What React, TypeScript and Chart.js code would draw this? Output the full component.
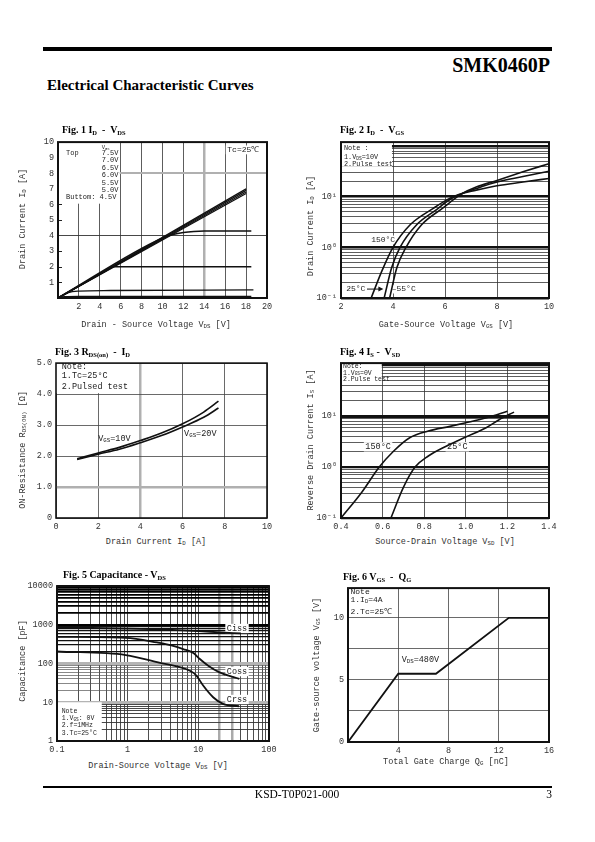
import React, { useEffect, useRef } from "react";
import { Chart, registerables } from "chart.js";

Chart.register(...registerables);

const MONO = '"Liberation Mono", "DejaVu Sans Mono", monospace';
const SERIF = '"Liberation Serif", "Times New Roman", serif';

// ---------------- Fig. 1  ID - VDS ----------------
const f1XTicks = [0, 2, 4, 6, 8, 10, 12, 14, 16, 18, 20];
const f1YTicks = [0, 1, 2, 3, 4, 5, 6, 7, 8, 9, 10];
const f1LinX = [0, 18];
const f1Vgs75 = [0, 7.0];
const f1Vgs70 = [0, 6.9];
const f1Vgs65 = [0, 6.8];
const f1Vgs60 = [0, 6.7];
const f1Vgs55X = [0, 10, 11, 12, 13, 14, 18.5];
const f1Vgs55 = [0, 3.85, 4.07, 4.2, 4.27, 4.3, 4.3];
const f1Vgs50X = [0, 5.2, 18.5];
const f1Vgs50 = [0, 2.0, 2.0];
const f1Vgs45X = [0, 1, 2, 5, 18.7];
const f1Vgs45 = [0, 0.35, 0.44, 0.48, 0.52];
const f1Vgs40X = [0, 0.6, 2, 18.5];
const f1Vgs40 = [0, 0.08, 0.1, 0.1];

// ---------------- Fig. 2  ID - VGS ----------------
const f2XTicks = [2, 4, 6, 8, 10];
const f2T150X = [3.16, 3.57, 4.0, 4.66, 5.55, 6.0, 6.5, 7.2, 8.0, 9.0, 10.0];
const f2T150Y = [0.1, 0.34, 1.0, 2.8, 5.9, 8.3, 11.0, 13.5, 16.5, 19.5, 23.0];
const f2T25X = [3.66, 3.95, 4.27, 4.91, 5.74, 6.0, 6.55, 7.2, 8.0, 9.0, 10.0];
const f2T25Y = [0.1, 0.4, 1.0, 2.8, 5.9, 7.6, 11.0, 14.5, 19.5, 25.0, 32.0];
const f2Tm55X = [3.87, 4.15, 4.5, 5.1, 5.9, 6.6, 7.2, 8.0, 9.0, 10.0];
const f2Tm55Y = [0.1, 0.4, 1.0, 2.8, 5.9, 11.0, 15.5, 21.0, 31.0, 45.0];

// ---------------- Fig. 3  RDS(on) - ID ----------------
const f3XTicks = [0, 2, 4, 6, 8, 10];
const f3YTicks = [0, 1, 2, 3, 4, 5];
const f3X = [1, 2, 3, 4, 5, 6, 7, 7.7];
const f3Vgs10 = [1.91, 2.1, 2.28, 2.5, 2.74, 3.04, 3.42, 3.77];
const f3Vgs20 = [1.89, 2.06, 2.22, 2.43, 2.66, 2.94, 3.25, 3.55];

// ---------------- Fig. 4  IS - VSD ----------------
const f4XTicks = [0.4, 0.6, 0.8, 1.0, 1.2, 1.4];
const f4T150X = [0.4, 0.5, 0.584, 0.65, 0.732, 0.82, 0.924, 1.0, 1.1, 1.2];
const f4T150Y = [0.1, 0.32, 1.0, 2.0, 3.8, 5.1, 6.3, 7.4, 9.3, 12.5];
const f4T25X = [0.64, 0.7, 0.756, 0.82, 0.908, 1.0, 1.1, 1.16, 1.232];
const f4T25Y = [0.1, 0.4, 1.0, 1.65, 2.6, 3.9, 6.0, 8.5, 12.0];

// ---------------- Fig. 5  Capacitance - VDS ----------------
const f5CissX = [0.1, 1, 3, 10, 20, 40];
const f5CissY = [860, 800, 760, 690, 640, 600];
const f5CossX = [0.1, 0.94, 2.6, 4.4, 6.1, 8.5, 10.5, 13.8, 20, 38];
const f5CossY = [490, 460, 350, 288, 237, 186, 131, 88, 59, 40];
const f5CrssX = [0.1, 0.94, 2.7, 7.6, 9.4, 11.7, 16.2, 22.3, 37.7];
const f5CrssY = [205, 166, 107, 65, 49, 27, 13.5, 9.1, 7.9];

// ---------------- Fig. 6  VGS - QG ----------------
const f6XTicks = [0, 4, 8, 12, 16];
const f6YTicks = [0, 2.5, 5, 7.5, 10];
const f6X = [0, 4, 7.0, 12.8, 16];
const f6Y = [0, 5.5, 5.5, 10, 10];

// ------------------------------------------------------------
const PAD_T = 8;
const PAD_R = 12;
const XH = 18;
const WY = 32;

type Rect = { l: number; t: number; r: number; b: number };

const pts = (xs: number[], ys: number[]) => xs.map((x, i) => ({ x, y: ys[i] }));

function logTicks(e0: number, e1: number): number[] {
  const out: number[] = [];
  for (let e = e0; e < e1; e++) {
    for (let k = 1; k <= 9; k++) out.push(Number((k * Math.pow(10, e)).toPrecision(6)));
  }
  out.push(Math.pow(10, e1));
  return out;
}
const isDecade = (v: number) => Math.abs(Math.log10(v) - Math.round(Math.log10(v))) < 1e-9;
const near = (a: number, b: number) => Math.abs(a - b) < 1e-6 * Math.max(1, Math.abs(b));

const SUP: Record<string, string> = { "-1": "10\u207B\u00B9", "0": "10\u2070", "1": "10\u00B9" };

type GridFn = (v: number) => [string, number];

function axis(
  type: string,
  min: number,
  max: number,
  vals: number[],
  label: (v: number) => string,
  grid: GridFn,
  isX: boolean
) {
  return {
    type,
    min,
    max,
    afterBuildTicks: (s: any) => {
      s.ticks = vals.map((v) => ({ value: v }));
    },
    afterFit: (s: any) => {
      if (isX) s.height = XH;
      else s.width = WY;
    },
    ticks: {
      autoSkip: false,
      maxRotation: 0,
      minRotation: 0,
      padding: 4,
      color: "#333",
      font: { family: MONO, size: 8.5 },
      callback: (v: any) => label(Number(v)),
    },
    grid: {
      drawTicks: false,
      color: (c: any) => grid(c.tick ? c.tick.value : 0)[0],
      lineWidth: (c: any) => grid(c.tick ? c.tick.value : 0)[1],
    },
    border: { display: false },
  };
}

type Seg = { t: string; sub?: boolean };
function parseRich(s: string): Seg[] {
  const out: Seg[] = [];
  const re = /_\{([^}]*)\}/g;
  let last = 0;
  let m: RegExpExecArray | null;
  while ((m = re.exec(s))) {
    if (m.index > last) out.push({ t: s.slice(last, m.index) });
    out.push({ t: m[1], sub: true });
    last = m.index + m[0].length;
  }
  if (last < s.length) out.push({ t: s.slice(last) });
  return out;
}

function drawRich(ctx: CanvasRenderingContext2D, s: string, x: number, y: number, size: number, bg: boolean) {
  const segs = parseRich(s);
  const sub = size * 0.68;
  let w = 0;
  const widths = segs.map((sg) => {
    ctx.font = `${sg.sub ? sub : size}px ${MONO}`;
    const m = ctx.measureText(sg.t).width;
    w += m;
    return m;
  });
  if (bg) {
    ctx.fillStyle = "#fff";
    ctx.fillRect(x - 1.5, y - size * 0.55, w + 3, size * 1.1);
  }
  ctx.fillStyle = "#222";
  ctx.textBaseline = "middle";
  ctx.textAlign = "left";
  let cx = x;
  segs.forEach((sg, i) => {
    ctx.font = `${sg.sub ? sub : size}px ${MONO}`;
    ctx.fillText(sg.t, cx, sg.sub ? y + size * 0.22 : y);
    cx += widths[i];
  });
}

type NoteLine = { t: string; dx: number; dy: number; size?: number };
type Note = { x0: number; x1: number; y0: number; y1: number; fill?: boolean; size: number; lines: NoteLine[] };
type Label = { t: string; x: number; y: number; size: number; bg?: boolean };
type Arrow = { x0: number; x1: number; y: number };
type Deco = { notes?: Note[]; labels?: Label[]; arrows?: Arrow[]; innerTicks?: number[]; frame?: number };

function makeDeco(d: Deco) {
  return {
    id: "deco",
    beforeDatasetsDraw(chart: any) {
      const { ctx, chartArea: a, scales } = chart;
      const X = scales.x;
      const Y = scales.y;
      ctx.save();
      ctx.strokeStyle = "#222";
      ctx.lineWidth = 1;
      (d.innerTicks || []).forEach((v) => {
        const py = Math.round(Y.getPixelForValue(v)) + 0.5;
        ctx.beginPath();
        ctx.moveTo(a.left, py);
        ctx.lineTo(a.left + 4, py);
        ctx.stroke();
      });
      (d.notes || []).forEach((n) => {
        const xa = X.getPixelForValue(n.x0);
        const xb = X.getPixelForValue(n.x1);
        const ya = Y.getPixelForValue(n.y0);
        const yb = Y.getPixelForValue(n.y1);
        const L = Math.min(xa, xb);
        const R = Math.max(xa, xb);
        const T = Math.min(ya, yb);
        const B = Math.max(ya, yb);
        if (n.fill !== false) {
          ctx.fillStyle = "#fff";
          ctx.fillRect(L, T, R - L, B - T);
        }
        n.lines.forEach((l) => drawRich(ctx, l.t, L + l.dx, T + l.dy, l.size || n.size, false));
      });
      (d.labels || []).forEach((l) =>
        drawRich(ctx, l.t, X.getPixelForValue(l.x), Y.getPixelForValue(l.y), l.size, !!l.bg)
      );
      (d.arrows || []).forEach((ar) => {
        const x0 = X.getPixelForValue(ar.x0);
        const x1 = X.getPixelForValue(ar.x1);
        const y = Y.getPixelForValue(ar.y);
        ctx.strokeStyle = "#111";
        ctx.fillStyle = "#111";
        ctx.lineWidth = 1;
        ctx.beginPath();
        ctx.moveTo(x0, y);
        ctx.lineTo(x1 - 3, y);
        ctx.stroke();
        ctx.beginPath();
        ctx.moveTo(x1, y);
        ctx.lineTo(x1 - 5, y - 2.5);
        ctx.lineTo(x1 - 5, y + 2.5);
        ctx.closePath();
        ctx.fill();
      });
      ctx.restore();
    },
    afterDatasetsDraw(chart: any) {
      const { ctx, chartArea: a } = chart;
      ctx.save();
      ctx.strokeStyle = "#111";
      ctx.lineWidth = d.frame || 2;
      ctx.strokeRect(a.left, a.top, a.right - a.left, a.bottom - a.top);
      ctx.restore();
    },
  };
}

function ds(xs: number[], ys: number[], extra: any = {}) {
  return {
    data: pts(xs, ys),
    borderColor: "#111",
    borderWidth: 1.5,
    pointRadius: 0,
    fill: false,
    tension: 0,
    ...extra,
  };
}

function baseConfig(datasets: any[], xAxis: any, yAxis: any, deco: Deco) {
  return {
    type: "line",
    data: { datasets },
    options: {
      animation: false,
      responsive: false,
      maintainAspectRatio: false,
      events: [],
      layout: { padding: { left: 0, top: PAD_T, right: PAD_R, bottom: 0 } },
      plugins: { legend: { display: false }, tooltip: { enabled: false }, title: { display: false } },
      scales: { x: xAxis, y: yAxis },
    },
    plugins: [makeDeco(deco)],
  };
}

function Fig({ rect, build }: { rect: Rect; build: () => any }) {
  const ref = useRef<HTMLCanvasElement>(null);
  const W = rect.r - rect.l + WY + PAD_R;
  const H = rect.b - rect.t + PAD_T + XH;
  useEffect(() => {
    const chart = new Chart(ref.current as HTMLCanvasElement, build());
    return () => chart.destroy();
  }, []);
  return (
    <canvas
      ref={ref}
      width={W}
      height={H}
      style={{ position: "absolute", left: rect.l - WY, top: rect.t - PAD_T, width: W, height: H }}
    />
  );
}

// ---------------- chart builders ----------------
const thin: GridFn = () => ["#333", 0.8];
const logGrid: GridFn = (v) => (isDecade(v) ? ["#111", 2.5] : ["#333", 0.8]);

function buildF1() {
  const lin = { cubicInterpolationMode: "default", tension: 0, borderWidth: 1.3 };
  return baseConfig(
    [
      ds(f1LinX, f1Vgs75, lin),
      ds(f1LinX, f1Vgs70, lin),
      ds(f1LinX, f1Vgs65, lin),
      ds(f1LinX, f1Vgs60, lin),
      ds(f1Vgs55X, f1Vgs55, { cubicInterpolationMode: "monotone", borderWidth: 1.6 }),
      ds(f1Vgs50X, f1Vgs50, { borderWidth: 1.4 }),
      ds(f1Vgs45X, f1Vgs45, { cubicInterpolationMode: "monotone", borderWidth: 1.3 }),
      ds(f1Vgs40X, f1Vgs40, { cubicInterpolationMode: "monotone", borderWidth: 1.3 }),
    ],
    axis("linear", 0, 20, f1XTicks, (v) => (v === 0 ? "" : String(v)), (v) => (v === 14 ? ["#b0b0b0", 2.5] : ["#333", 0.8]), true),
    axis(
      "linear",
      0,
      10,
      f1YTicks,
      (v) => (v === 0 ? "" : String(v)),
      (v) => (v === 4 ? ["#333", 0.9] : v === 8 ? ["#b0b0b0", 2] : ["rgba(0,0,0,0)", 0]),
      false
    ),
    {
      innerTicks: [1, 2, 3, 5, 6, 7, 9],
      notes: [
        {
          x0: 0,
          x1: 5.9,
          y0: 6.05,
          y1: 10,
          size: 7,
          lines: [
            { t: "Top", dx: 8, dy: 11.3 },
            { t: "V_{GS}", dx: 43.7, dy: 5.2, size: 5.5 },
            { t: "7.5V", dx: 43.7, dy: 11.3 },
            { t: "7.0V", dx: 43.7, dy: 18.3 },
            { t: "6.5V", dx: 43.7, dy: 25.7 },
            { t: "6.0V", dx: 43.7, dy: 33.3 },
            { t: "5.5V", dx: 43.7, dy: 40.7 },
            { t: "5.0V", dx: 43.7, dy: 48 },
            { t: "Buttom: 4.5V", dx: 8, dy: 55 },
          ],
        },
      ],
      labels: [{ t: "Tc=25\u2103", x: 16.2, y: 9.5, size: 8, bg: true }],
    }
  );
}

function buildF2() {
  const sm = { cubicInterpolationMode: "monotone", borderWidth: 1.6 };
  return baseConfig(
    [ds(f2T150X, f2T150Y, sm), ds(f2T25X, f2T25Y, sm), ds(f2Tm55X, f2Tm55Y, sm)],
    axis("linear", 2, 10, f2XTicks, (v) => String(v), thin, true),
    axis(
      "logarithmic",
      0.1,
      120,
      logTicks(-1, 2),
      (v) => (isDecade(v) && SUP[String(Math.round(Math.log10(v)))]) || "",
      logGrid,
      false
    ),
    {
      notes: [
        {
          x0: 2,
          x1: 3.96,
          y0: 39,
          y1: 120,
          size: 6.8,
          lines: [
            { t: "Note :", dx: 3, dy: 5.7 },
            { t: "1.V_{DS}=10V", dx: 3, dy: 15.5 },
            { t: "2.Pulse test", dx: 3, dy: 22.3 },
          ],
        },
      ],
      labels: [
        { t: "150\u00B0C", x: 3.16, y: 1.4, size: 8, bg: true },
        { t: "25\u00B0C", x: 2.2, y: 0.15, size: 8, bg: true },
        { t: "\u201355\u00B0C", x: 3.95, y: 0.15, size: 8, bg: true },
      ],
      arrows: [{ x0: 3.0, x1: 3.63, y: 0.15 }],
    }
  );
}

function buildF3() {
  const sm = { cubicInterpolationMode: "monotone", borderWidth: 1.6 };
  return baseConfig(
    [ds(f3X, f3Vgs10, sm), ds(f3X, f3Vgs20, sm)],
    axis("linear", 0, 10, f3XTicks, (v) => String(v), (v) => (v === 4 ? ["#b0b0b0", 2.5] : ["#444", 0.8]), true),
    axis(
      "linear",
      0,
      5,
      f3YTicks,
      (v) => (v === 0 ? "0" : v.toFixed(1)),
      (v) => (v === 1 ? ["#b0b0b0", 2.5] : ["#444", 0.8]),
      false
    ),
    {
      notes: [
        {
          x0: 0,
          x1: 3.5,
          y0: 4.03,
          y1: 5,
          size: 8.5,
          lines: [
            { t: "Note:", dx: 5.7, dy: 4 },
            { t: "1.Tc=25\u00B0C", dx: 5.7, dy: 12.5 },
            { t: "2.Pulsed test", dx: 5.7, dy: 23.5 },
          ],
        },
      ],
      labels: [
        { t: "V_{GS}=10V", x: 2.0, y: 2.56, size: 8.5 },
        { t: "V_{GS}=20V", x: 6.07, y: 2.73, size: 8.5 },
      ],
      frame: 1.6,
    }
  );
}

function buildF4() {
  const sm = { cubicInterpolationMode: "monotone", borderWidth: 1.6 };
  return baseConfig(
    [ds(f4T150X, f4T150Y, sm), ds(f4T25X, f4T25Y, sm)],
    axis("linear", 0.4, 1.4, f4XTicks, (v) => v.toFixed(1), thin, true),
    axis(
      "logarithmic",
      0.1,
      110,
      logTicks(-1, 2),
      (v) => (isDecade(v) && SUP[String(Math.round(Math.log10(v)))]) || "",
      (v) => (isDecade(v) ? (near(v, 10) ? ["#111", 3] : ["#111", 2.2]) : ["#333", 0.8]),
      false
    ),
    {
      notes: [
        {
          x0: 0.4,
          x1: 0.596,
          y0: 45,
          y1: 110,
          size: 6.5,
          lines: [
            { t: "Note:", dx: 2, dy: 2.8 },
            { t: "1.V_{GS}=0V", dx: 2, dy: 9.7 },
            { t: "2.Pulse test", dx: 2, dy: 16.3 },
          ],
        },
      ],
      labels: [
        { t: "150\u00B0C", x: 0.517, y: 2.5, size: 8.5, bg: true },
        { t: "25\u00B0C", x: 0.91, y: 2.5, size: 8.5, bg: true },
      ],
    }
  );
}

function buildF5() {
  const sm = { cubicInterpolationMode: "monotone", borderWidth: 1.8 };
  const yGrid: GridFn = (v) => {
    if (isDecade(v)) {
      const e = Math.round(Math.log10(v));
      if (e === 1 || e === 2) return ["#b4b4b4", 3];
      return ["#000", 2];
    }
    if (v > 1000) return ["#000", 1.8];
    if (v > 100) return ["#111", 1.2];
    if (v > 10) return ["#555", 0.7];
    return ["#333", 0.9];
  };
  const xGrid: GridFn = (v) => (near(v, 20) || near(v, 30) ? ["#aaa", 2.5] : ["#222", 0.8]);
  return baseConfig(
    [ds(f5CissX, f5CissY, sm), ds(f5CossX, f5CossY, sm), ds(f5CrssX, f5CrssY, sm)],
    axis("logarithmic", 0.1, 100, logTicks(-1, 2), (v) => (isDecade(v) ? String(Number(v.toPrecision(3))) : ""), xGrid, true),
    axis("logarithmic", 1, 10000, logTicks(0, 4), (v) => (isDecade(v) ? String(Math.round(v)) : ""), yGrid, false),
    {
      notes: [
        {
          x0: 0.1,
          x1: 0.43,
          y0: 1,
          y1: 10,
          size: 6.5,
          lines: [
            { t: "Note", dx: 4.7, dy: 9 },
            { t: "1.V_{GS}: 0V", dx: 4.7, dy: 16.3 },
            { t: "2.f=1MHz", dx: 4.7, dy: 23.3 },
            { t: "3.Tc=25\u00B0C", dx: 4.7, dy: 30.6 },
          ],
        },
      ],
      labels: [
        { t: "Ciss", x: 25.3, y: 804, size: 8.5, bg: true },
        { t: "Coss", x: 25.3, y: 62, size: 8.5, bg: true },
        { t: "Crss", x: 25.3, y: 11.8, size: 8.5, bg: true },
      ],
    }
  );
}

function buildF6() {
  return baseConfig(
    [ds(f6X, f6Y, { borderWidth: 1.8 })],
    axis("linear", 0, 16, f6XTicks, (v) => (v === 0 ? "" : String(v)), () => ["#444", 0.8], true),
    axis("linear", 0, 12.4, f6YTicks, (v) => (v % 5 === 0 ? String(v) : ""), () => ["#444", 0.8], false),
    {
      notes: [
        {
          x0: 0,
          x1: 4,
          y0: 10.3,
          y1: 12.4,
          fill: false,
          size: 8,
          lines: [
            { t: "Note", dx: 2.5, dy: 3.5 },
            { t: "1.I_{D}=4A", dx: 2.5, dy: 12 },
            { t: "2.Tc=25\u2103", dx: 2.5, dy: 23.5 },
          ],
        },
      ],
      labels: [{ t: "V_{DS}=480V", x: 4.27, y: 6.6, size: 8.5 }],
    }
  );
}

// ---------------- HTML text helpers ----------------
function richNodes(s: string, subSize: number, drop: number) {
  return parseRich(s).map((sg, i) =>
    sg.sub ? (
      <span key={i} style={{ fontSize: subSize, verticalAlign: -drop, lineHeight: 0 }}>
        {sg.t}
      </span>
    ) : (
      <span key={i}>{sg.t}</span>
    )
  );
}

function SerifText({
  x,
  y,
  size,
  bold,
  align,
  text,
}: {
  x: number;
  y: number;
  size: number;
  bold?: boolean;
  align?: "left" | "center" | "right";
  text: string;
}) {
  const tx = align === "center" ? "translateX(-50%)" : align === "right" ? "translateX(-100%)" : "none";
  return (
    <div
      style={{
        position: "absolute",
        left: x,
        top: y - size * 0.8375,
        fontFamily: SERIF,
        fontSize: size,
        lineHeight: `${size}px`,
        fontWeight: bold ? 700 : 400,
        whiteSpace: "pre",
        transform: tx,
        color: "#000",
      }}
    >
      {richNodes(text, size * 0.65, size * 0.2)}
    </div>
  );
}

function MonoTitle({ cx, cy, text, rotate, size = 8.5 }: { cx: number; cy: number; text: string; rotate?: boolean; size?: number }) {
  return (
    <div
      style={{
        position: "absolute",
        left: cx,
        top: cy,
        fontFamily: MONO,
        fontSize: size,
        lineHeight: `${size}px`,
        whiteSpace: "pre",
        color: "#333",
        transform: rotate ? "translate(-50%,-50%) rotate(-90deg)" : "translate(-50%,-50%)",
      }}
    >
      {richNodes(text, size * 0.68, size * 0.2)}
    </div>
  );
}

const R1: Rect = { l: 58, t: 141, r: 267, b: 298 };
const R2: Rect = { l: 341, t: 141, r: 549, b: 298 };
const R3: Rect = { l: 56, t: 362, r: 267, b: 518 };
const R4: Rect = { l: 341, t: 362, r: 549, b: 518 };
const R5: Rect = { l: 57, t: 585, r: 269, b: 741 };
const R6: Rect = { l: 348, t: 587, r: 549, b: 742 };

const Y3_TITLE = "ON-Resistance R_{DS(ON)} [\u03A9]";

export default function App() {
  return (
    <div style={{ position: "absolute", left: 0, top: 0, width: 595, height: 842, background: "#fff", overflow: "hidden" }}>
      <div style={{ position: "absolute", left: 43, top: 47, width: 509, height: 4, background: "#000" }} />
      <SerifText x={550} y={72} size={20} bold align="right" text="SMK0460P" />
      <SerifText x={47} y={91} size={15} bold text="Electrical Characteristic Curves" />

      <Fig rect={R1} build={buildF1} />
      <Fig rect={R2} build={buildF2} />
      <Fig rect={R3} build={buildF3} />
      <Fig rect={R4} build={buildF4} />
      <Fig rect={R5} build={buildF5} />
      <Fig rect={R6} build={buildF6} />

      <SerifText x={62} y={133} size={10} bold text="Fig. 1 I_{D}  -  V_{DS}" />
      <SerifText x={340} y={133} size={10} bold text="Fig. 2 I_{D}  -  V_{GS}" />
      <SerifText x={55} y={355} size={10} bold text="Fig. 3 R_{DS(on)}  -  I_{D}" />
      <SerifText x={340} y={355} size={10} bold text="Fig. 4 I_{S} -  V_{SD}" />
      <SerifText x={63} y={578} size={10} bold text="Fig. 5 Capacitance - V_{DS}" />
      <SerifText x={343} y={580} size={10} bold text="Fig. 6 V_{GS}  -  Q_{G}" />

      <MonoTitle cx={156} cy={325} text="Drain - Source Voltage V_{DS} [V]" />
      <MonoTitle cx={446} cy={325} text="Gate-Source Voltage V_{GS} [V]" />
      <MonoTitle cx={156} cy={542} text="Drain Current I_{D} [A]" />
      <MonoTitle cx={445} cy={542} text="Source-Drain Voltage V_{SD} [V]" />
      <MonoTitle cx={158} cy={766} text="Drain-Source Voltage V_{DS} [V]" />
      <MonoTitle cx={446} cy={761.5} text="Total Gate Charge Q_{G} [nC]" />

      <MonoTitle cx={23} cy={219} rotate text="Drain Current I_{D} [A]" />
      <MonoTitle cx={311} cy={226} rotate text="Drain Current I_{D} [A]" />
      <MonoTitle cx={23} cy={450} rotate text={Y3_TITLE} />
      <MonoTitle cx={311} cy={440} rotate text="Reverse Drain Current I_{S} [A]" />
      <MonoTitle cx={23} cy={661} rotate text="Capacitance [pF]" />
      <MonoTitle cx={317} cy={665} rotate text="Gate-source voltage V_{GS} [V]" />

      <div style={{ position: "absolute", left: 43, top: 786, width: 509, height: 2, background: "#000" }} />
      <SerifText x={297} y={799} size={11.5} align="center" text="KSD-T0P021-000" />
      <SerifText x={552} y={799} size={11.5} align="right" text="3" />
    </div>
  );
}
